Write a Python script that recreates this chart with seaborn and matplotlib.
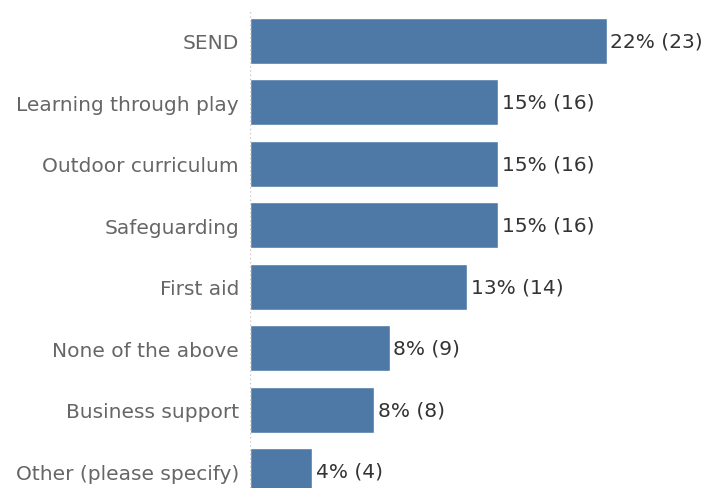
import matplotlib
matplotlib.use("Agg")
import matplotlib.pyplot as plt
import seaborn as sns
import pandas as pd

categories = ["SEND", "Learning through play", "Outdoor curriculum", "Safeguarding",
              "First aid", "None of the above", "Business support", "Other (please specify)"]
counts = [23, 16, 16, 16, 14, 9, 8, 4]
percents = [22, 15, 15, 15, 13, 8, 8, 4]

df = pd.DataFrame({"category": categories, "count": counts, "pct": percents})

sns.set_style("white")
plt.rcParams['font.family'] = ['DejaVu Sans']

fig = plt.figure(figsize=(7.06, 4.89), dpi=100)
W, H = 706, 489
ax_left, ax_top, ax_bottom, ax_right = 250, 11, 489, 706
ax = fig.add_axes([ax_left / W, 1 - ax_bottom / H, (ax_right - ax_left) / W, (ax_bottom - ax_top) / H])

sns.barplot(data=df, y="category", x="count", orient="h", color="#4e79a7",
            saturation=1, width=0.75, ax=ax)

pitch = 61.5
px_per_count = 15.5
ax.set_ylim(-0.5 + (ax_bottom - ax_top) / pitch, -0.5)
ax.set_xlim(0, (ax_right - ax_left) / px_per_count)

for i, (c, p) in enumerate(zip(counts, percents)):
    ax.text(c + 0.25, i, f"{p}% ({c})", va="center", ha="left", fontsize=14.5, color="#333333")

ax.axvline(0, color="#c8c8c8", linestyle=(0, (1, 2)), linewidth=1)
for s in ax.spines.values():
    s.set_visible(False)
ax.set_xticks([])
ax.set_xlabel("")
ax.set_ylabel("")
ax.tick_params(axis="y", length=0, pad=8, labelsize=14.5, labelcolor="#666666")

fig.savefig("out.png", dpi=100)
